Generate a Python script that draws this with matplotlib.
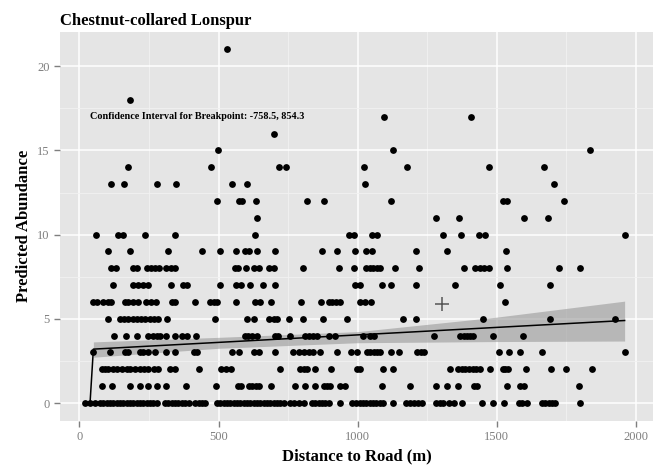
import numpy as np
import matplotlib
matplotlib.use("Agg")
import matplotlib.pyplot as plt
from matplotlib.ticker import MultipleLocator

# distance to road (m) of the sites, grouped by predicted abundance
x_y0 = [20, 38, 56, 74, 86, 98, 110, 122, 134, 146, 158, 170, 182, 194, 206, 218, 230,
        242, 254, 266, 278, 308, 320, 332, 344, 356, 368, 380, 392, 416, 428, 440, 452,
        494, 506, 518, 530, 542, 554, 566, 578, 590, 602, 614, 626, 638, 650, 662, 674,
        686, 698, 710, 722, 734, 758, 770, 788, 806, 836, 848, 860, 872, 884, 896, 938,
        980, 995, 1007, 1019, 1031, 1043, 1055, 1067, 1079, 1091, 1127, 1175, 1189, 1204,
        1218, 1231, 1283, 1295, 1307, 1327, 1345, 1375, 1447, 1487, 1525, 1582, 1591,
        1610, 1663, 1675, 1687, 1699, 1711, 1801]
x_y1 = [80, 116, 180, 216, 248, 278, 312, 383, 492, 570, 582, 608, 620, 634, 646, 690,
        774, 812, 848, 878, 890, 902, 938, 956, 1088, 1187, 1283, 1321, 1360, 1417, 1429,
        1537, 1585, 1597, 1797]
x_y2 = [80, 92, 104, 119, 134, 152, 170, 182, 200, 218, 233, 245, 269, 284, 326, 344,
        428, 510, 527, 546, 722, 794, 806, 818, 848, 905, 998, 1010, 1091, 1127, 1333,
        1360, 1375, 1387, 1399, 1414, 1427, 1441, 1477, 1522, 1531, 1541, 1606, 1697,
        1750, 1843]
x_y3 = [50, 108, 164, 176, 218, 230, 245, 272, 312, 344, 412, 424, 548, 572, 626, 644,
        702, 766, 790, 808, 824, 838, 866, 926, 977, 998, 1034, 1046, 1058, 1070, 1082,
        1120, 1150, 1213, 1228, 1240, 1510, 1543, 1585, 1663, 1963]
x_y4 = [125, 168, 206, 245, 266, 278, 290, 312, 344, 368, 386, 419, 594, 606, 620, 638,
        702, 714, 758, 812, 824, 838, 854, 898, 920, 1019, 1046, 1058, 1276, 1369, 1381,
        1393, 1405, 1415, 1487, 1595]
x_y5 = [104, 146, 161, 176, 192, 206, 221, 236, 252, 269, 284, 314, 486, 602, 626, 680,
        698, 710, 754, 802, 874, 962, 1163, 1211, 1451, 1693, 1927]
x_y6 = [48, 62, 86, 104, 113, 164, 176, 192, 209, 240, 257, 276, 332, 344, 416, 470, 482,
        494, 563, 632, 650, 690, 798, 869, 896, 908, 922, 938, 1010, 1028, 1048, 1531]
x_y7 = [120, 192, 209, 228, 245, 330, 372, 386, 506, 563, 582, 612, 660, 702, 992, 1007,
        1088, 1120, 1210, 1349, 1511, 1693]
x_y8 = [113, 132, 194, 206, 242, 257, 272, 287, 312, 330, 344, 560, 570, 598, 626, 644,
        680, 698, 802, 934, 986, 1031, 1043, 1055, 1070, 1082, 1133, 1220, 1384, 1423,
        1441, 1456, 1471, 1537, 1723, 1801]
x_y9 = [101, 180, 317, 442, 506, 563, 596, 608, 638, 702, 872, 926, 990, 1031, 1052,
        1210, 1321, 1535]
x_y10 = [60, 137, 158, 236, 342, 632, 970, 988, 1052, 1070, 1307, 1372, 1435, 1459, 1963]
x_y11 = [638, 1281, 1363, 1599, 1686]
x_y12 = [494, 574, 586, 633, 818, 878, 1119, 1523, 1537, 1741]
x_y13 = [113, 159, 277, 346, 549, 603, 1028, 1707]
x_y14 = [176, 474, 719, 741, 1022, 1176, 1472, 1671]
x_y15 = [498, 1127, 1834]
x_y16 = [701]
x_y17 = [1096, 1408]
x_y18 = [182]
x_y21 = [532]

rows = {0: x_y0, 1: x_y1, 2: x_y2, 3: x_y3, 4: x_y4, 5: x_y5, 6: x_y6, 7: x_y7,
        8: x_y8, 9: x_y9, 10: x_y10, 11: x_y11, 12: x_y12, 13: x_y13, 14: x_y14,
        15: x_y15, 16: x_y16, 17: x_y17, 18: x_y18, 21: x_y21}

# segmented fit and its confidence band
fit_x = [38, 50, 1960]
fit_y = [0, 3.2, 4.9]
band_x = [50, 500, 1000, 1500, 1960]
band_lo = [2.72, 3.25, 3.58, 3.65, 3.68]
band_hi = [3.63, 3.9, 4.24, 5.1, 6.05]

breakpoint_x, breakpoint_y = 1302, 5.9
note = "Confidence Interval for Breakpoint: -758.5, 854.3"
note_x, note_y = 425, 17

xs = np.concatenate([np.array(v, dtype=float) for v in rows.values()])
ys = np.concatenate([np.full(len(v), k, dtype=float) for k, v in rows.items()])

serif = "Liberation Serif"
fig = plt.figure(figsize=(6.65, 4.69), dpi=100)
ax = fig.add_axes([60 / 665, 1 - 420.7 / 469, 593 / 665, 389 / 469])
ax.set_facecolor("#E5E5E5")
for s in ax.spines.values():
    s.set_visible(False)

ax.xaxis.set_major_locator(MultipleLocator(500))
ax.xaxis.set_minor_locator(MultipleLocator(250))
ax.yaxis.set_major_locator(MultipleLocator(5))
ax.yaxis.set_minor_locator(MultipleLocator(2.5))
ax.grid(which="major", color="white", lw=1.1)
ax.grid(which="minor", color="#F2F2F2", lw=0.6)
ax.set_axisbelow(True)
ax.tick_params(which="minor", length=0)
ax.tick_params(which="major", length=4, width=1, color="#7F7F7F",
               labelcolor="#7F7F7F", labelsize=9)

ax.fill_between(band_x, band_lo, band_hi, color="#999999", alpha=0.6, lw=0, zorder=2)
ax.scatter(xs, ys, s=24, color="black", lw=0, zorder=3)
ax.plot(fit_x, fit_y, color="black", lw=1.1, zorder=4)
ax.plot(breakpoint_x, breakpoint_y, marker="+", ms=10, mew=1.1, color="#555555", zorder=4)
ax.text(note_x, note_y, note, family=serif, fontweight="bold", fontsize=7.3,
        ha="center", va="center")

ax.set_xlim(-70, 2062)
ax.set_ylim(-1.05, 22.05)
for lab in ax.get_xticklabels() + ax.get_yticklabels():
    lab.set_family(serif)

ax.set_xlabel("Distance to Road (m)", family=serif, fontweight="bold", fontsize=12)
ax.set_ylabel("Predicted Abundance", family=serif, fontweight="bold", fontsize=12)
ax.set_title("Chestnut-collared Lonspur", family=serif, fontweight="bold",
             fontsize=12, loc="left", pad=5)

fig.savefig("out.png", dpi=100)
